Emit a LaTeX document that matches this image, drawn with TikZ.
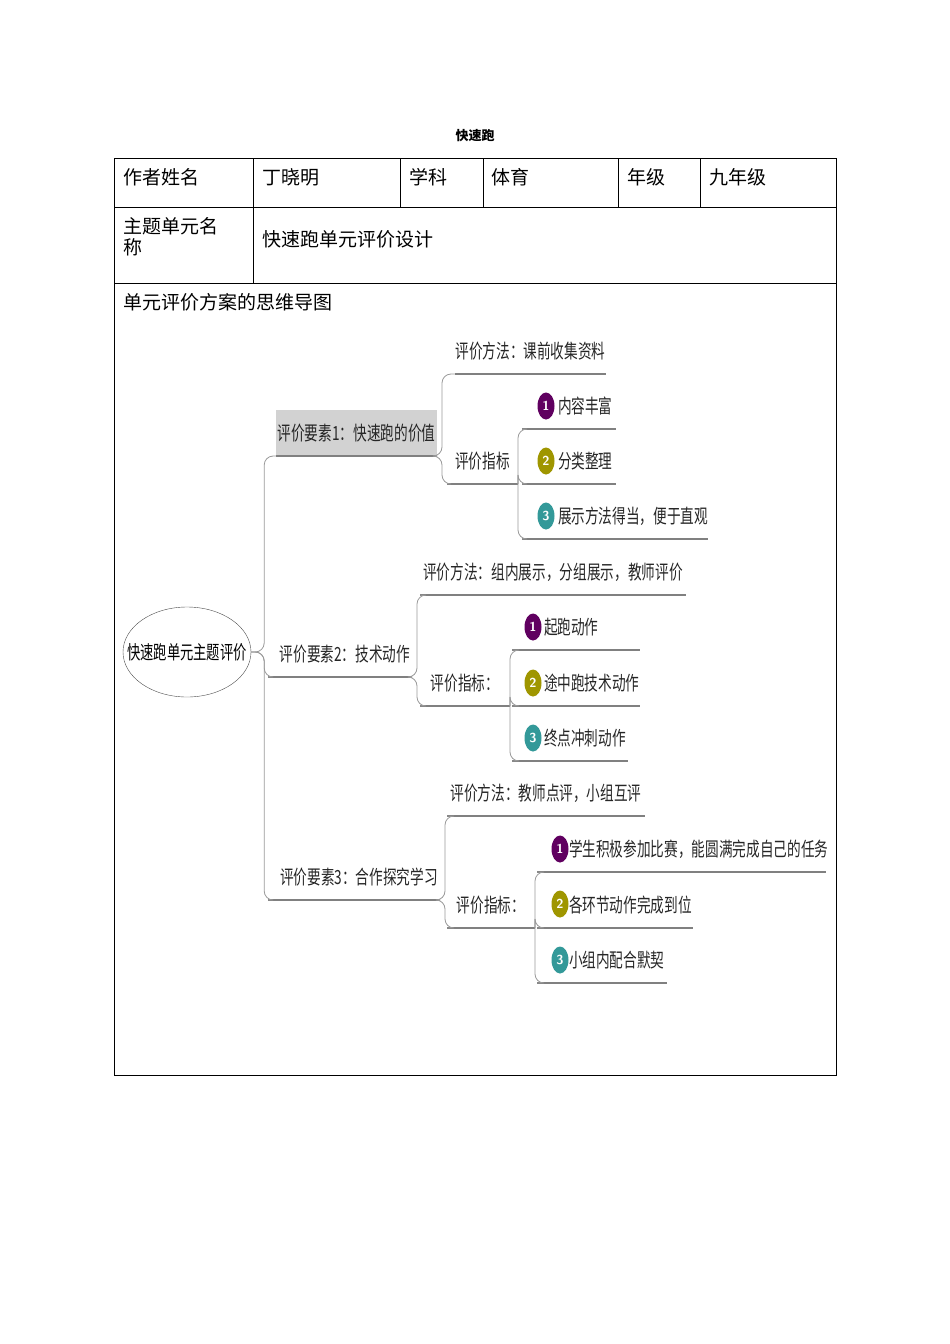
\documentclass[tikz,border=0pt]{standalone}
\usepackage{fontspec}
\newfontfamily\cjk{Noto Sans CJK SC}
\usetikzlibrary{positioning, shapes.geometric}
\newcommand\narrow[1]{\scalebox{0.7}[1]{#1}}
\begin{document}
\begin{tikzpicture}[x=1pt, y=-1pt, auto,
  cell/.style={anchor=north west, font=\cjk\fontsize{19}{21}\selectfont, inner sep=0pt, align=left},
  topic/.style={anchor=south west, inner sep=0pt, outer sep=0pt, minimum height=46pt,
    font=\cjk\fontsize{19.5}{20}\selectfont, text=black!85,
    append after command={(\tikzlastnode.south west) edge[draw=gray, line width=1.2pt] (\tikzlastnode.south east)}},
  link/.style={draw=gray!80, line width=0.8pt, rounded corners=9pt},
  numdot/.style={ellipse, inner sep=0pt, minimum width=17pt, minimum height=27pt,
    text=white, font=\sffamily\bfseries\fontsize{13}{13}\selectfont}]
  \useasboundingbox (0,0) rectangle (950,1344);
  % table
  \node[font=\cjk\bfseries\fontsize{13}{15}\selectfont] (title) at (475,136) {快速跑};
  \draw[line width=0.8pt] (114,158) rectangle (836,1075);
  \draw[line width=0.8pt] (114,207) -- (836,207) (114,283) -- (836,283);
  \foreach \x in {253,400,483,618,700} \draw[line width=0.8pt] (\x,158) -- (\x,207);
  \draw[line width=0.8pt] (253,207) -- (253,283);
  \node[cell] (c1) at (123,168) {作者姓名};
  \node[cell] (c2) at (262,168) {丁晓明};
  \node[cell] (c3) at (409,168) {学科};
  \node[cell] (c4) at (491,168) {体育};
  \node[cell] (c5) at (627,168) {年级};
  \node[cell] (c6) at (709,168) {九年级};
  \node[cell] (c7) at (123,217) {主题单元名\\称};
  \node[cell] (c8) at (262,230) {快速跑单元评价设计};
  \node[cell] (c9) at (123,293) {单元评价方案的思维导图};
  % mind map
  \node[draw=black!70, ellipse, minimum width=128pt, minimum height=90pt, inner sep=-16pt,
        font=\cjk\fontsize{19}{20}\selectfont] (root) at (187,652) {\narrow{快速跑单元主题评价}};
  % branch 1
  \node[topic, fill=gray!35, minimum width=161pt] (b1) at (276,456) {\narrow{评价要素1：快速跑的价值}};
  \node[topic, minimum width=151pt] (m1) at (455,374) {\narrow{评价方法：课前收集资料}};
  \node[topic, minimum width=71pt] (i1) at (447,484) {\narrow{评价指标}};
  \node[topic, minimum width=94pt, text width=94pt, align=left] (l11) at (522,429) {\hspace*{36pt}\narrow{内容丰富}};
  \node[topic, minimum width=94pt, text width=94pt, align=left] (l12) at (522,484) {\hspace*{36pt}\narrow{分类整理}};
  \node[topic, minimum width=186pt, text width=186pt, align=left] (l13) at (522,539) {\hspace*{36pt}\narrow{展示方法得当，便于直观}};
  \node[numdot, fill=violet!75!black] (d11) at (546,406) {1};
  \node[numdot, fill=olive!85!yellow] (d12) at (546,461) {2};
  \node[numdot, fill=teal!80] (d13) at (546,516) {3};
  % branch 2
  \node[topic, minimum width=144pt] (b2) at (268,677) {\hspace*{10pt}\narrow{评价要素2：技术动作}};
  \node[topic, minimum width=266pt] (m2) at (420,595) {\narrow{评价方法：组内展示，分组展示，教师评价}};
  \node[topic, minimum width=90pt] (i2) at (420,706) {\narrow{评价指标：}};
  \node[topic, minimum width=128pt, text width=128pt, align=left] (l21) at (512,650) {\hspace*{32pt}\narrow{起跑动作}};
  \node[topic, minimum width=128pt, text width=128pt, align=left] (l22) at (512,706) {\hspace*{32pt}\narrow{途中跑技术动作}};
  \node[topic, minimum width=116pt, text width=116pt, align=left] (l23) at (512,761) {\hspace*{32pt}\narrow{终点冲刺动作}};
  \node[numdot, fill=violet!75!black] (d21) at (533,627) {1};
  \node[numdot, fill=olive!85!yellow] (d22) at (533,683) {2};
  \node[numdot, fill=teal!80] (d23) at (533,738) {3};
  % branch 3
  \node[topic, minimum width=172pt] (b3) at (268,900) {\hspace*{10pt}\narrow{评价要素3：合作探究学习}};
  \node[topic, minimum width=198pt] (m3) at (447,816) {\narrow{评价方法：教师点评，小组互评}};
  \node[topic, minimum width=88pt] (i3) at (447,928) {\narrow{评价指标：}};
  \node[topic, minimum width=289pt, text width=289pt, align=left] (l31) at (537,872) {\hspace*{32pt}\narrow{学生积极参加比赛，能圆满完成自己的任务}};
  \node[topic, minimum width=156pt, text width=156pt, align=left] (l32) at (537,928) {\hspace*{32pt}\narrow{各环节动作完成到位}};
  \node[topic, minimum width=130pt, text width=130pt, align=left] (l33) at (537,983) {\hspace*{32pt}\narrow{小组内配合默契}};
  \node[numdot, fill=violet!75!black] (d31) at (560,849) {1};
  \node[numdot, fill=olive!85!yellow] (d32) at (560,904) {2};
  \node[numdot, fill=teal!80] (d33) at (560,960) {3};
  % links
  \foreach \b in {b1,b2,b3} \draw[link] (root.east) -- ++(13,0) |- (\b.south west);
  \foreach \p/\c in {b1/m1,b1/i1,b2/m2,b2/i2,b3/m3,b3/i3} \draw[link] (\p.south east) -- ++(5,0) |- (\c.south west);
  \foreach \p/\c in {i1/l11,i1/l12,i1/l13,i2/l21,i2/l22,i2/l23,i3/l31,i3/l32,i3/l33}
    \draw[link] (\p.south east) -- ++(0,0) |- (\c.south west);
\end{tikzpicture}
\end{document}
